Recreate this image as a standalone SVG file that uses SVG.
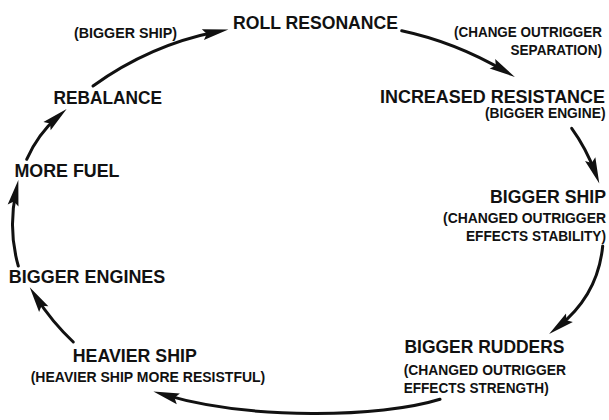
<svg xmlns="http://www.w3.org/2000/svg" width="609" height="420" viewBox="0 0 609 420">
<style>
  text { font-family: "Liberation Sans", Arial, Helvetica, sans-serif; font-weight: bold; fill: #111; }
  .main { font-size: 18.5px; }
  .main2 { font-size: 17.5px; }
  .sub { font-size: 14px; }
  .r { text-anchor: end; }
  .arrow { fill: none; stroke: #111; stroke-width: 3; stroke-linecap: round; marker-end: url(#head); }
</style>
<defs>
  <marker id="head" markerUnits="userSpaceOnUse" orient="auto" refX="0" refY="0" markerWidth="40" markerHeight="20" viewBox="-20 -10 40 20" overflow="visible">
    <path d="M12,0 L-14,-5.5 L-10,0 L-14,5.5 Z" fill="#111"/>
  </marker>
</defs>
<rect width="609" height="420" fill="#fff"/>

<g id="connectors">
  <path class="arrow" d="M93,86 Q150,45 216.6,31.8"/>
  <path class="arrow" d="M401.7,30.7 Q455,42 504.5,70.9"/>
  <path class="arrow" d="M571.7,128.3 Q586,148 595.1,172.3"/>
  <path class="arrow" d="M602.7,246 Q598,295 558.5,326.5"/>
  <path class="arrow" d="M440,399.3 C380,418 250,420 164.9,394.9"/>
  <path class="arrow" d="M73.3,342 Q52,322 36.2,297.3"/>
  <path class="arrow" d="M18.3,266 Q8,230 15.9,191.8"/>
  <path class="arrow" d="M26.7,159.3 Q38,134 57.6,116.9"/>
</g>

<g id="roll-resonance">
  <text class="main" x="233" y="29.3" textLength="165" lengthAdjust="spacingAndGlyphs">ROLL RESONANCE</text>
</g>
<g id="label-bigger-ship-top">
  <text class="sub" x="74" y="37.7" textLength="103" lengthAdjust="spacingAndGlyphs">(BIGGER SHIP)</text>
</g>
<g id="label-change-outrigger">
  <text class="sub r" x="602" y="36.7" textLength="148" lengthAdjust="spacingAndGlyphs">(CHANGE OUTRIGGER</text>
  <text class="sub r" x="602" y="55" textLength="91.5" lengthAdjust="spacingAndGlyphs">SEPARATION)</text>
</g>
<g id="rebalance">
  <text class="main" x="53.5" y="104" textLength="108.5" lengthAdjust="spacingAndGlyphs">REBALANCE</text>
</g>
<g id="increased-resistance">
  <text class="main2" x="380" y="102.7" textLength="225" lengthAdjust="spacingAndGlyphs">INCREASED RESISTANCE</text>
  <text class="sub r" x="605.5" y="118.3" textLength="120.5" lengthAdjust="spacingAndGlyphs">(BIGGER ENGINE)</text>
</g>
<g id="more-fuel">
  <text class="main" x="14.5" y="176.7" textLength="105" lengthAdjust="spacingAndGlyphs">MORE FUEL</text>
</g>
<g id="bigger-ship">
  <text class="main2" x="490" y="202.7" textLength="116" lengthAdjust="spacingAndGlyphs">BIGGER SHIP</text>
  <text class="sub r" x="606" y="223.3" textLength="163" lengthAdjust="spacingAndGlyphs">(CHANGED OUTRIGGER</text>
  <text class="sub r" x="606" y="240.7" textLength="140" lengthAdjust="spacingAndGlyphs">EFFECTS STABILITY)</text>
</g>
<g id="bigger-engines">
  <text class="main" x="8.8" y="283.3" textLength="156.5" lengthAdjust="spacingAndGlyphs">BIGGER ENGINES</text>
</g>
<g id="heavier-ship">
  <text class="main" x="72.8" y="361.7" textLength="124" lengthAdjust="spacingAndGlyphs">HEAVIER SHIP</text>
  <text class="sub" x="30.7" y="381.7" textLength="234.6" lengthAdjust="spacingAndGlyphs">(HEAVIER SHIP MORE RESISTFUL)</text>
</g>
<g id="bigger-rudders">
  <text class="main" x="404.5" y="353.3" textLength="160" lengthAdjust="spacingAndGlyphs">BIGGER RUDDERS</text>
  <text class="sub" x="403.7" y="375" textLength="162.3" lengthAdjust="spacingAndGlyphs">(CHANGED OUTRIGGER</text>
  <text class="sub" x="403.7" y="393.3" textLength="145" lengthAdjust="spacingAndGlyphs">EFFECTS STRENGTH)</text>
</g>
</svg>
